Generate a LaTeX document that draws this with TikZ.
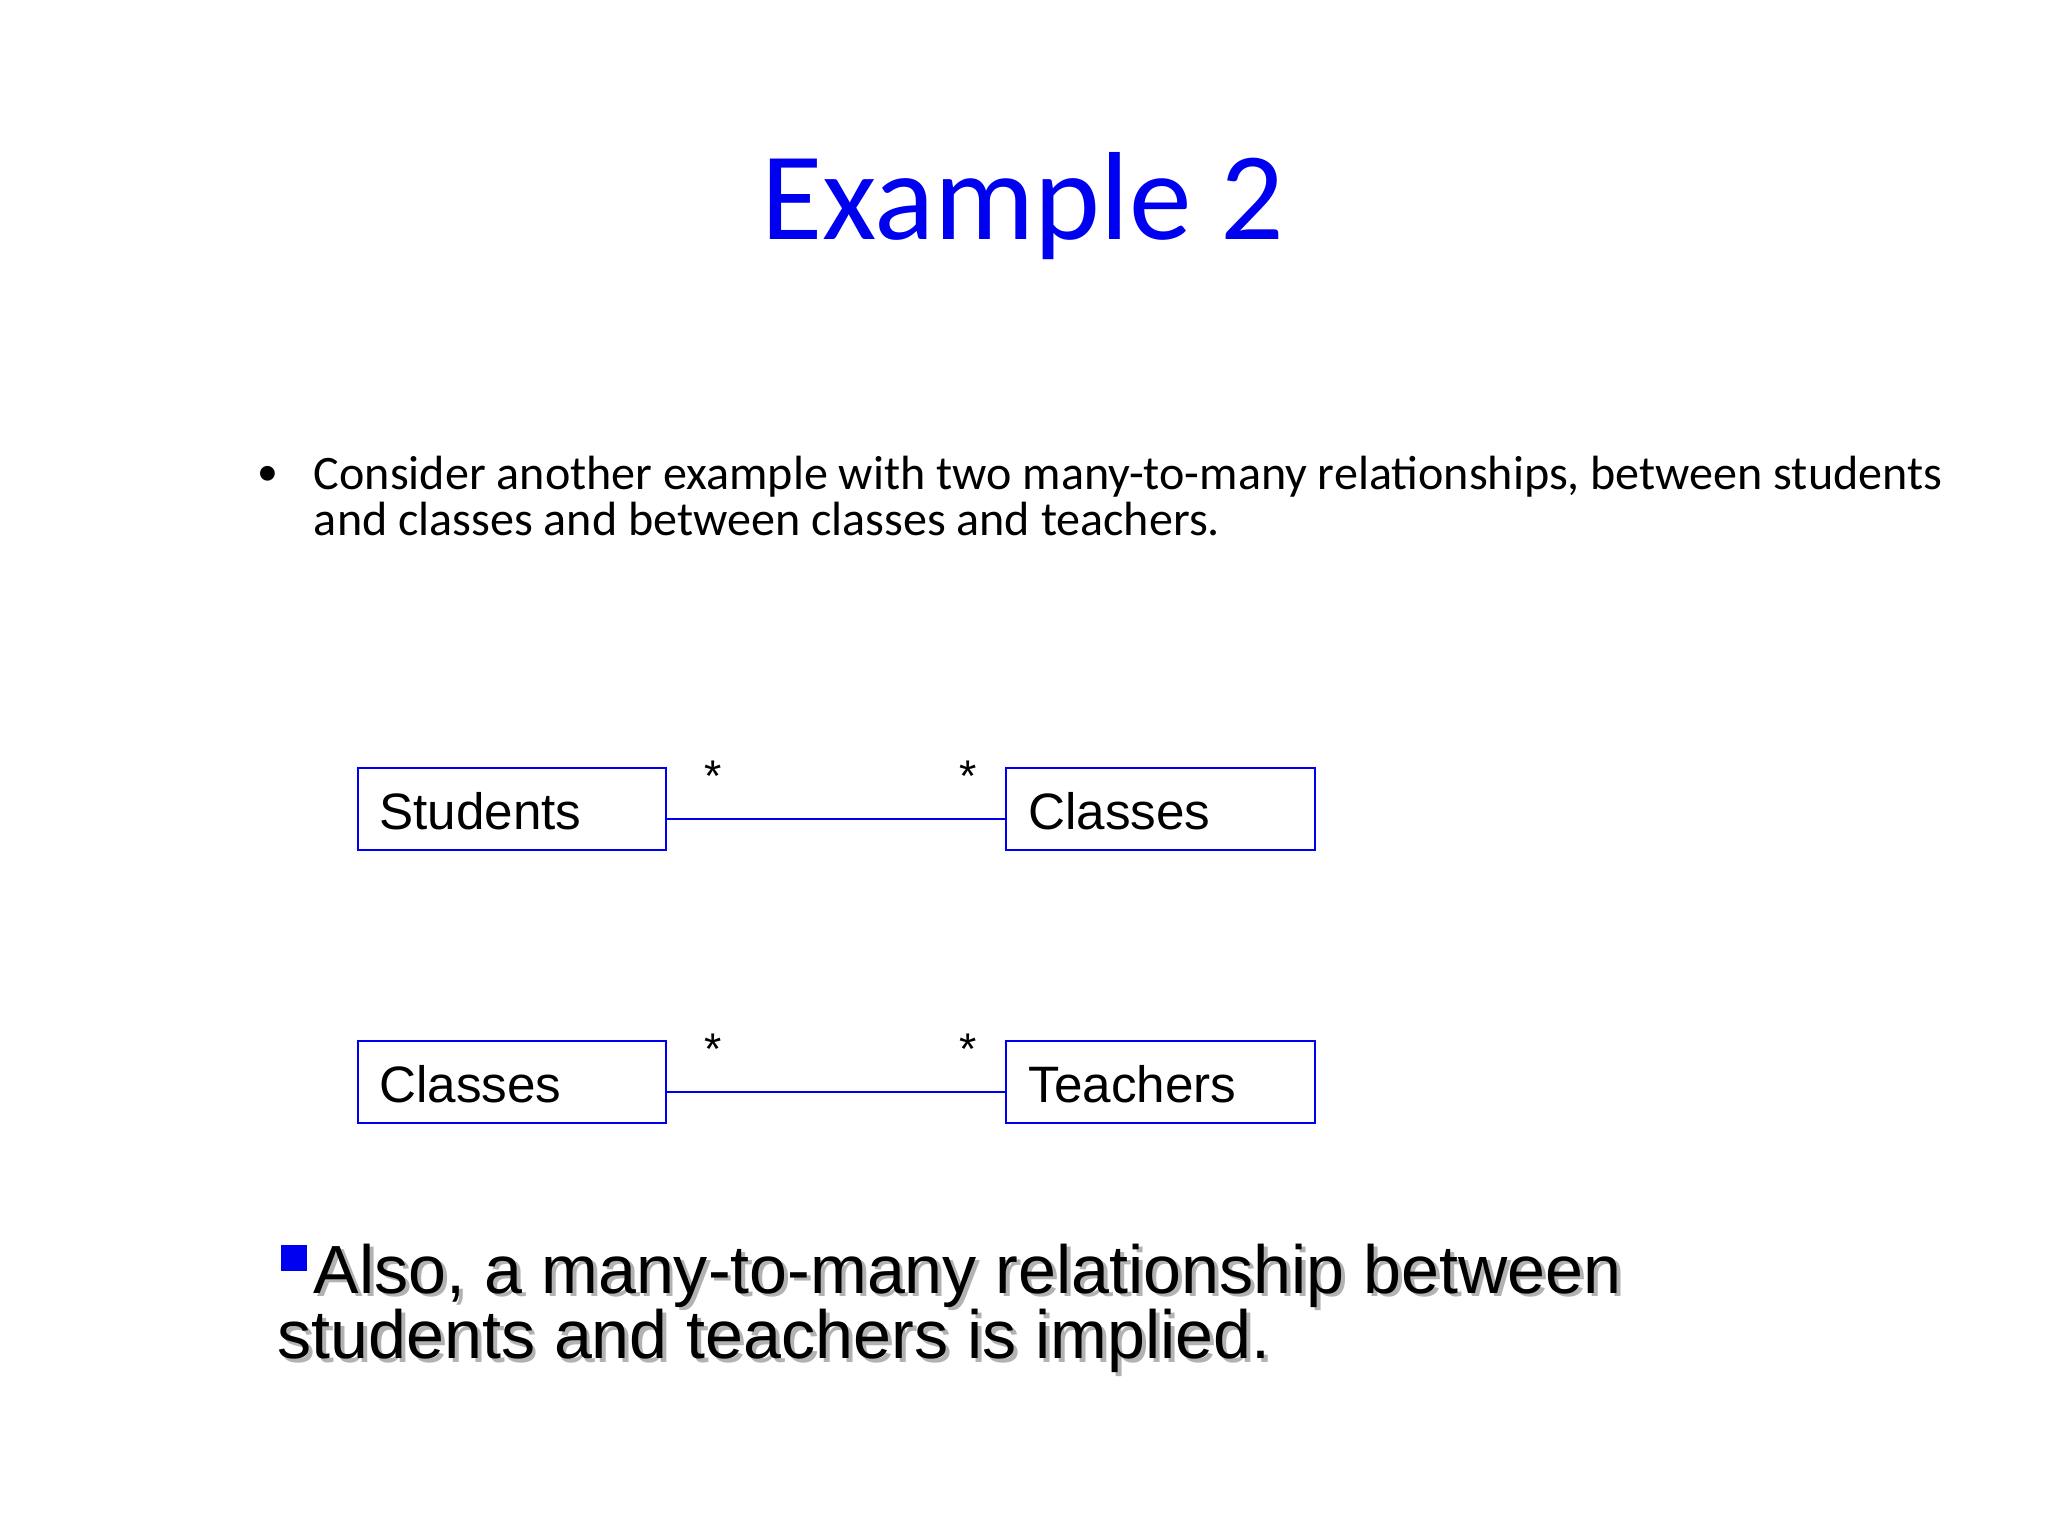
\documentclass[tikz,border=0pt]{standalone}
\usepackage{fontspec}
\setmainfont{Liberation Sans}
\newfontfamily\calfnt{Carlito}
\definecolor{tblue}{RGB}{0,0,240}
\begin{document}
\begin{tikzpicture}[x=0.5pt,y=-0.5pt,
  ent/.style={draw=tblue,line width=0.8pt,minimum width=118pt,minimum height=31.5pt,inner sep=0pt},
  lbl/.style={font=\fontsize{19.6}{22}\selectfont,anchor=base west,inner sep=0pt},
  star/.style={font=\fontsize{17}{19}\selectfont},
  btxt/.style={font=\calfnt\fontsize{18.4}{20}\selectfont,anchor=base west,inner sep=0pt}]
\useasboundingbox (0,0) rectangle (1568,1176);
\node[text=tblue,font=\calfnt\fontsize{48}{52}\selectfont,anchor=base] (title) at (783,183) {Example 2};
\node[font=\calfnt\fontsize{16}{18}\selectfont,anchor=base] (bul) at (205,372) {•};
\node[btxt] (txt1) at (240,375) {Consider another example with two many-to-many relationships, between students};
\node[btxt] (txt2) at (240,410) {and classes and between classes and teachers.};
\node[ent] (s) at (392,619.5) {};
\node[lbl] at (290,635) {Students};
\node[ent] (c1) at (888.5,619.5) {};
\node[lbl] at (787,635) {Classes};
\node[ent] (c2) at (392,828.5) {};
\node[lbl] at (290,844) {Classes};
\node[ent] (t) at (888.5,828.5) {};
\node[lbl] at (787,844) {Teachers};
\draw[tblue,line width=0.8pt] (s.east |- 0,627) -- (c1.west |- 0,627);
\draw[tblue,line width=0.8pt] (c2.east |- 0,836) -- (t.west |- 0,836);
\node[star] (a1) at (546,594) {*};
\node[star] (a2) at (741,594) {*};
\node[star] (a3) at (546,803) {*};
\node[star] (a4) at (741,803) {*};
\fill[tblue] (215,953) rectangle (235,973);
\begin{scope}[font=\fontsize{26.1}{25}\selectfont]
\node[text=black!30,anchor=base west,inner sep=0pt] at (243,993) {Also, a many-to-many relationship between};
\node[text=black!30,anchor=base west,inner sep=0pt] at (215,1043) {students and teachers is implied.};
\node[anchor=base west,inner sep=0pt] (b1) at (240,990) {Also, a many-to-many relationship between};
\node[anchor=base west,inner sep=0pt] (b2) at (212,1040) {students and teachers is implied.};
\end{scope}
\end{tikzpicture}
\end{document}
